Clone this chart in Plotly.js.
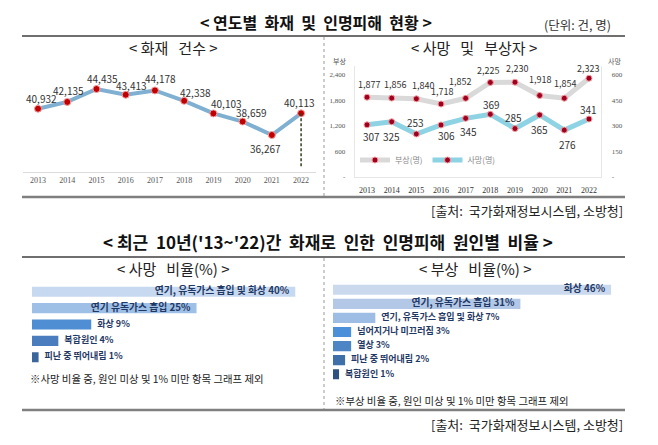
<!DOCTYPE html>
<html><head><meta charset="utf-8">
<script src="https://cdn.plot.ly/plotly-3.0.1.min.js"></script>
<style>html,body{margin:0;padding:0;background:#fff}#c{width:658px;height:445px}</style>
</head><body><div id="c"></div>
<script>
const years = ['2013','2014','2015','2016','2017','2018','2019','2020','2021','2022'];
const fires = [40932,42135,44435,43413,44178,42338,40103,38659,36267,40113];
const injuries = [1877,1856,1840,1718,1852,2225,2230,1918,1854,2323];
const deaths = [307,325,253,306,345,369,285,365,276,341];
const deathCauses = ['연기, 유독가스 흡입 및 화상','연기 유독가스 흡입','화상','복합원인','피난 중 뛰어내림'];
const deathPct = [40,25,9,4,1];
const injuryCauses = ['화상','연기, 유독가스 흡입','연기, 유독가스 흡입 및 화상','넘어지거나 미끄러짐','열상','피난 중 뛰어내림','복합원인'];
const injuryPct = [46,31,7,3,3,2,1];
const injTicks = [0,600,1200,1800,2400];
const deathTicks = [0,150,300,450,600];

// label offsets (style: pixel shifts of value labels relative to their points)
const fireShift = [[3,10],[1,11],[6,11],[6,9],[6,12],[11,8],[13,10],[9,9],[-6,-13],[-2,11]];
const injShift  = [[2,13],[3,14],[7,13],[1,12],[-6,17],[-2,12],[2,14],[0,16],[1,15],[-1,10]];
const deathShift= [[4,-12],[0,-15],[-1,11],[5,-11],[3,-13],[1,10],[-1,11],[0,-15],[3,-14],[0,10]];

const W=658,H=445;
const px = x=>x/W, py = y=>1-y/H;
const KR = '"Noto Sans CJK KR", "Noto Sans", sans-serif';
const SERIF = '"Liberation Serif", "DejaVu Serif", serif';
const fmt = v=>v.toLocaleString('en-US');
const tickTxt = a=>a.map(v=>v===0?'-':fmt(v));
const sp = '&nbsp;';
const sp2 = sp+sp, sp3 = sp+sp+sp;
const catRange = [-0.5, years.length-0.5];

const deathColors = ['#c6d9f0','#9fc0e6','#4f8ed2','#4a7dbd','#3a669c'];
const injColors = ['#cad9ee','#b3c8e6','#9dbde5','#4b90d8','#4e86c5','#3f6fa8','#2d5180'];
const labelPos = v => v>=20 ? 'middle left' : 'middle right';
const labelSize = v => v>=20 ? 9.8 : 9;

const traces = [
  {x:years,y:fires,xaxis:'x',yaxis:'y',mode:'lines+markers',showlegend:false,
   line:{color:'#7fb0d2',width:4},marker:{color:'#c00000',size:7,line:{color:'#f4a0a0',width:1}},hoverinfo:'skip'},
  {x:[years[9],years[9]],y:[fires[9],30500],xaxis:'x',yaxis:'y',mode:'lines',showlegend:false,
   line:{color:'#2f3f20',width:1.5,dash:'3px,2px'},hoverinfo:'skip'},
  {x:years,y:injuries,xaxis:'x2',yaxis:'y2',mode:'lines+markers',name:'부상(명)',
   line:{color:'#d9d9d9',width:5},marker:{color:'#a00020',size:6,line:{color:'#f4a0a0',width:1}},hoverinfo:'skip'},
  {x:years,y:deaths,xaxis:'x2',yaxis:'y3',mode:'lines+markers',name:'사망(명)',
   line:{color:'#8dd3e3',width:5},marker:{color:'#a00020',size:6,line:{color:'#f4a0a0',width:1}},hoverinfo:'skip'},
  {type:'bar',orientation:'h',x:deathPct,y:deathCauses,xaxis:'x4',yaxis:'y4',showlegend:false,width:0.62,
   marker:{color:deathColors},hoverinfo:'skip'},
  {type:'scatter',mode:'markers+text',x:deathPct,y:deathCauses,xaxis:'x4',yaxis:'y4',showlegend:false,
   marker:{size:8,opacity:0},
   text:deathCauses.map((c,i)=>c+' '+deathPct[i]+'%'),textposition:deathPct.map(labelPos),
   textfont:{family:KR,size:deathPct.map(labelSize),color:'#1f3864',weight:'bold'},cliponaxis:false,hoverinfo:'skip'},
  {type:'bar',orientation:'h',x:injuryPct,y:injuryCauses,xaxis:'x5',yaxis:'y5',showlegend:false,width:0.72,
   marker:{color:injColors},hoverinfo:'skip'},
  {type:'scatter',mode:'markers+text',x:injuryPct,y:injuryCauses,xaxis:'x5',yaxis:'y5',showlegend:false,
   marker:{size:8,opacity:0},
   text:injuryCauses.map((c,i)=>c+' '+injuryPct[i]+'%'),textposition:injuryPct.map(labelPos),
   textfont:{family:KR,size:injuryPct.map(labelSize),color:'#1f3864',weight:'bold'},cliponaxis:false,hoverinfo:'skip'}
];

function ann(text,x,y,size,opts){
  return Object.assign({text:text,xref:'paper',yref:'paper',x:px(x),y:py(y),xanchor:'center',yanchor:'middle',showarrow:false,
    font:{family:KR,size:size,color:'#222'}},opts||{});
}
function valueLabels(vals,xr,yr,shifts,size){
  // category axes: annotation x is the category's serial index
  return vals.map((v,i)=>({text:fmt(v),x:i,y:v,xref:xr,yref:yr,showarrow:false,xanchor:'center',yanchor:'middle',
    xshift:shifts[i][0],yshift:shifts[i][1],font:{family:KR,size:size,color:'#333'}}));
}
const layout = {
  width:W,height:H,margin:{l:0,r:0,t:0,b:0},paper_bgcolor:'#fff',plot_bgcolor:'rgba(0,0,0,0)',
  font:{family:KR},
  xaxis:{domain:[px(23.4),px(315.7)],type:'category',range:catRange,showgrid:false,zeroline:false,showline:true,linecolor:'#dcdcdc',
    tickfont:{family:SERIF,size:8,color:'#555'},ticks:'',anchor:'y',fixedrange:true},
  yaxis:{domain:[py(172),py(60)],range:[29696,49585],visible:false,anchor:'x',fixedrange:true},
  xaxis2:{domain:[px(354.7),px(601.3)],type:'category',range:catRange,showgrid:false,zeroline:false,showline:true,linecolor:'#e6e6e6',
    tickfont:{family:SERIF,size:8,color:'#333'},ticks:'outside',ticklen:5,tickcolor:'rgba(0,0,0,0)',anchor:'y2',fixedrange:true},
  yaxis2:{domain:[py(177),py(66)],range:[0,2400*111/102],tickvals:injTicks,ticktext:tickTxt(injTicks),showgrid:false,zeroline:false,
    showline:true,linecolor:'#e6e6e6',tickfont:{family:SERIF,size:7,color:'#555'},ticks:'outside',ticklen:7,tickcolor:'rgba(0,0,0,0)',anchor:'x2',fixedrange:true},
  yaxis3:{overlaying:'y2',side:'right',range:[0,600*111/102],tickvals:deathTicks,ticktext:tickTxt(deathTicks),showgrid:false,zeroline:false,
    showline:true,linecolor:'#e6e6e6',tickfont:{family:SERIF,size:7,color:'#555'},ticks:'outside',ticklen:8,tickcolor:'rgba(0,0,0,0)',anchor:'x2',fixedrange:true},
  xaxis4:{domain:[px(32),px(315)],range:[0,43],visible:false,anchor:'y4',fixedrange:true},
  yaxis4:{domain:[py(366.4),py(282.6)],autorange:'reversed',type:'category',visible:false,anchor:'x4',fixedrange:true},
  xaxis5:{domain:[px(333),px(625)],range:[0,48.3],visible:false,anchor:'y5',fixedrange:true},
  yaxis5:{domain:[py(384.5),py(279.5)],autorange:'reversed',type:'category',visible:false,anchor:'x5',fixedrange:true},
  showlegend:true,
  legend:{orientation:'h',x:px(355),y:py(160),xanchor:'left',yanchor:'middle',bgcolor:'rgba(0,0,0,0)',
    font:{family:KR,size:8,color:'#888'},itemwidth:30,tracegroupgap:0},
  shapes:[
    {type:'line',xref:'paper',yref:'paper',x0:px(22),x1:px(625),y0:py(36),y1:py(36),line:{color:'#6f6f6f',width:2}},
    {type:'line',xref:'paper',yref:'paper',x0:px(22),x1:px(625),y0:py(197),y1:py(197),line:{color:'#7f7f7f',width:2.5}},
    {type:'line',xref:'paper',yref:'paper',x0:px(324),x1:px(324),y0:py(37),y1:py(196),line:{color:'#999',width:1,dash:'dot'}},
    {type:'line',xref:'paper',yref:'paper',x0:px(22),x1:px(625),y0:py(257),y1:py(257),line:{color:'#6f6f6f',width:2}},
    {type:'line',xref:'paper',yref:'paper',x0:px(22),x1:px(625),y0:py(410),y1:py(410),line:{color:'#7f7f7f',width:2.5}},
    {type:'line',xref:'paper',yref:'paper',x0:px(324),x1:px(324),y0:py(258),y1:py(409),line:{color:'#999',width:1,dash:'dot'}}
  ],
  annotations:[
    ann('<b>&lt; 연도별'+sp2+'화재'+sp2+'및'+sp2+'인명피해'+sp2+'현황 &gt;</b>',316,22,16,{font:{family:KR,size:16,color:'#111'}}),
    ann('(단위: 건, 명)',577,24,12.5,{font:{family:KR,size:12.5,color:'#333'}}),
    ann('&lt; 화재'+sp3+'건수 &gt;',173,48,15),
    ann('&lt; 사망'+sp3+'및'+sp3+'부상자 &gt;',474,48,15),
    ann('부상',339,61,7,{font:{family:KR,size:7,color:'#555'}}),
    ann('사망',614,61,7,{font:{family:KR,size:7,color:'#555'}}),
    ann('[출처:'+sp2+'국가화재정보시스템,'+sp+'소방청]',625,210,13,{xanchor:'right'}),
    ann('<b>&lt; 최근'+sp2+'10년(\'13~\'22)간'+sp2+'화재로'+sp2+'인한'+sp2+'인명피해'+sp2+'원인별'+sp2+'비율 &gt;</b>',328,241,17,{font:{family:KR,size:17,color:'#111'}}),
    ann('&lt; 사망'+sp3+'비율(%) &gt;',173,268,15),
    ann('&lt; 부상'+sp3+'비율(%) &gt;',475,268,15),
    ann('※사망 비율 중, 원인 미상 및 1% 미만 항목 그래프 제외',28,378,10.4,{xanchor:'left'}),
    ann('※부상 비율 중, 원인 미상 및 1% 미만 항목 그래프 제외',333,400,10.4,{xanchor:'left'}),
    ann('[출처:'+sp2+'국가화재정보시스템,'+sp+'소방청]',625,424,13,{xanchor:'right'})
  ].concat(valueLabels(fires,'x','y',fireShift,10))
   .concat(valueLabels(injuries,'x2','y2',injShift,9))
   .concat(valueLabels(deaths,'x2','y3',deathShift,10))
};
Plotly.newPlot('c',traces,layout,{staticPlot:true,displayModeBar:false});
</script></body></html>
